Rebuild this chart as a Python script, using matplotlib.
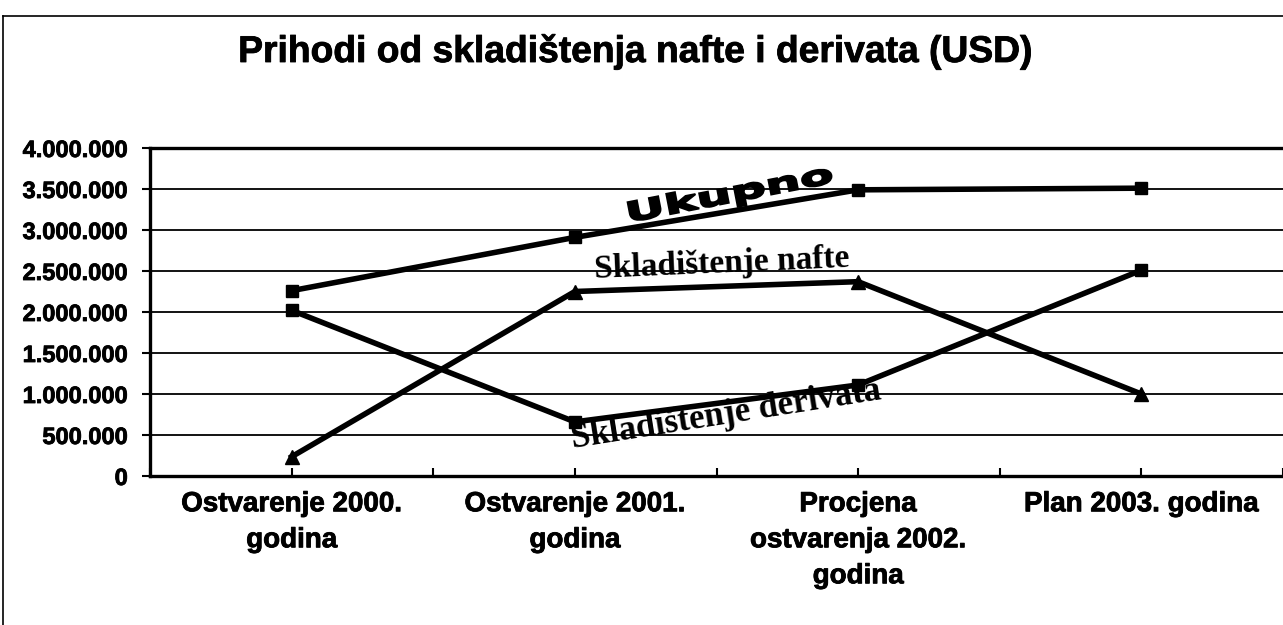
import matplotlib as mpl

mpl.use("Agg")

import matplotlib.pyplot as plt
import matplotlib.patheffects as pe
import matplotlib.transforms as mtransforms
from matplotlib.font_manager import FontProperties
from matplotlib.lines import Line2D
from matplotlib.patches import PathPatch
from matplotlib.textpath import TextPath
from matplotlib.ticker import FuncFormatter, MultipleLocator

# --- data (USD) ---
categories = [
    "Ostvarenje 2000.\ngodina",
    "Ostvarenje 2001.\ngodina",
    "Procjena\nostvarenja 2002.\ngodina",
    "Plan 2003. godina",
]
ukupno = [2260000, 2910000, 3490000, 3510000]
skl_nafte = [235000, 2250000, 2370000, 1000000]
skl_derivata = [2020000, 660000, 1110000, 2510000]

title = "Prihodi od skladištenja nafte i derivata (USD)"

plt.rcParams["font.family"] = ["Liberation Sans", "DejaVu Sans"]

W, H, DPI = 1283, 625, 100
fig = plt.figure(figsize=(W / DPI, H / DPI), dpi=DPI, facecolor="white")

# outer chart frame (left and top visible, rest cropped in the scan)
fig.add_artist(Line2D([3 / W, 3 / W], [0, 1 - 16 / H], color="black", lw=1.2))
fig.add_artist(Line2D([3 / W, 1], [1 - 16 / H, 1 - 16 / H], color="black", lw=1.2))

ax = fig.add_axes([150 / W, 1 - 476 / H, 1 - 150 / W, (476 - 148) / H])
x = list(range(len(categories)))

ax.plot(x, ukupno, color="black", lw=4, marker="s", ms=9, zorder=4)
ax.plot(x, skl_nafte, color="black", lw=4, marker="^", ms=10, zorder=4)
ax.plot(x, skl_derivata, color="black", lw=4, marker="s", ms=9, zorder=4)

ax.set_xlim(-0.5, len(categories) - 0.5)
ax.set_ylim(0, 4000000)
ax.yaxis.set_major_locator(MultipleLocator(500000))
ax.yaxis.set_major_formatter(FuncFormatter(lambda v, p: f"{int(v):,}".replace(",", ".")))
ax.grid(axis="y", color="black", lw=1.3)
ax.set_axisbelow(True)

heavy = [pe.withStroke(linewidth=0.6, foreground="black")]

ax.set_xticks(x)
ax.set_xticklabels(categories, fontsize=20, fontweight="bold", linespacing=1.5)
ax.set_xticks([i - 0.5 for i in x] + [len(x) - 0.5], minor=True)
ax.tick_params(axis="x", which="both", direction="in", length=6, width=1.5, pad=11)
ax.tick_params(axis="y", direction="out", length=6, width=1.5, pad=10,
               labelsize=17)
for lab in ax.get_yticklabels() + ax.get_xticklabels():
    lab.set_fontweight("bold")
    lab.set_path_effects(heavy)

for side in ("top", "left", "bottom"):
    ax.spines[side].set_linewidth(2.4)
ax.spines["right"].set_visible(False)

# series labels drawn on the chart
ax.text(1.52, 2580000, "Skladištenje nafte", family=["Liberation Serif"],
        fontweight="bold", fontsize=24, rotation=2.5, ha="center", va="center",
        rotation_mode="anchor", zorder=6)
ax.text(1.535, 740000, "Skladištenje derivata", family=["Liberation Serif"],
        fontweight="bold", fontsize=25, rotation=9, ha="center", va="center",
        rotation_mode="anchor", zorder=6)

# "Ukupno" word-art: stretched heavy lettering
tp = TextPath((0, 0), "Ukupno", size=30,
              prop=FontProperties(family="DejaVu Sans", weight="bold"))
bb = tp.get_extents()
sx = 205 / bb.width
art = (mtransforms.Affine2D()
       .translate(-(bb.x0 + bb.width / 2), -(bb.y0 + bb.height / 2))
       .scale(sx, 0.9)
       .rotate_deg(11)
       + mtransforms.ScaledTranslation(1.55, 3430000, ax.transData))
ax.add_patch(PathPatch(tp, transform=art, facecolor="black", edgecolor="black",
                       lw=1.5, clip_on=False, zorder=6))

fig.text(636 / W, 1 - 52 / H, title, ha="center", va="center",
         fontsize=26.8, fontweight="bold", path_effects=heavy)

fig.savefig("out.png", dpi=DPI, facecolor="white")
